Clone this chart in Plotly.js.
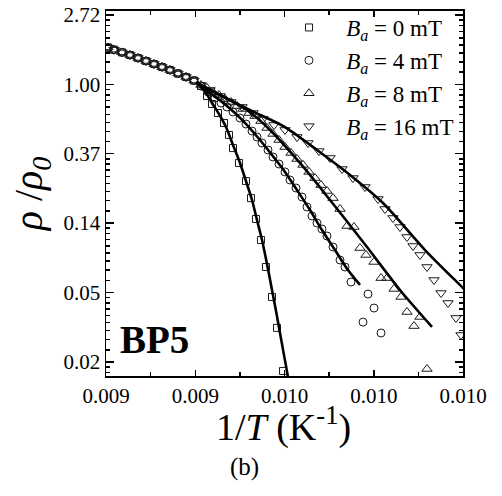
<!DOCTYPE html>
<html><head><meta charset="utf-8">
<script src="https://cdn.plot.ly/plotly-3.0.1.min.js"></script>
<style>html,body{margin:0;padding:0;background:#fff}</style>
</head><body><div id="chart" style="width:502px;height:496px"></div>
<script>
// ---- data ----
const seriesNames = ['0 mT', '4 mT', '8 mT', '16 mT'];

// high-temperature part, where all four series overlap
const commonX = [0.0092045, 0.0092179, 0.0092359, 0.0092538, 0.0092717, 0.0092896, 0.0093076, 0.0093255, 0.0093434, 0.0093613, 0.0093793, 0.0093972];
const commonY = [1.70, 1.646, 1.584, 1.525, 1.461, 1.399, 1.340, 1.283, 1.229, 1.168, 1.111, 1.056];

// Ba = 0 mT
const b0X = [0.0094129, 0.0094263, 0.0094375, 0.0094510, 0.0094644, 0.0094756, 0.0094846, 0.0094980, 0.0095137, 0.0095249, 0.0095361, 0.0095473, 0.0095585, 0.0095720, 0.0095832, 0.0095966];
const b0Y = [0.976, 0.845, 0.753, 0.661, 0.573, 0.482, 0.399, 0.322, 0.248, 0.194, 0.1436, 0.1061, 0.0719, 0.0467, 0.0299, 0.01607];
const fit0X = [0.0094039, 0.0094241, 0.0094375, 0.0094532, 0.0094689, 0.0094846, 0.0095003, 0.0095137, 0.0095272, 0.0095384, 0.0095496, 0.0095608, 0.0095720, 0.0095810, 0.0095899, 0.0095989, 0.0096078, 0.0096101];
const fit0Y = [1.034, 0.882, 0.764, 0.652, 0.540, 0.417, 0.322, 0.248, 0.1888, 0.1415, 0.1061, 0.0751, 0.0516, 0.0381, 0.0278, 0.0202, 0.01473, 0.01351];

// Ba = 4 mT
const b4X = [0.0094129, 0.0094286, 0.0094443, 0.0094577, 0.0094711, 0.0094846, 0.0095003, 0.0095137, 0.0095272, 0.0095384, 0.0095496, 0.0095630, 0.0095742, 0.0095877, 0.0096011, 0.0096123, 0.0096258, 0.0096392, 0.0096504, 0.0096616, 0.0096728, 0.0096840, 0.0096952, 0.0097087, 0.0097244, 0.0097356, 0.0097490, 0.0097871, 0.0098006, 0.0097759, 0.0098163];
const b4Y = [0.976, 0.895, 0.821, 0.764, 0.721, 0.671, 0.615, 0.564, 0.510, 0.468, 0.429, 0.388, 0.351, 0.317, 0.283, 0.252, 0.2244, 0.1971, 0.1707, 0.1499, 0.1355, 0.1243, 0.1124, 0.0959, 0.0795, 0.0719, 0.0579, 0.0487, 0.0398, 0.0325, 0.0278];
const fit4X = [0.0094039, 0.0094331, 0.0094599, 0.0094891, 0.0095182, 0.0095451, 0.0095720, 0.0096011, 0.0096280, 0.0096571, 0.0096840, 0.0097132, 0.0097423, 0.0097692];
const fit4Y = [1.019, 0.882, 0.775, 0.661, 0.548, 0.448, 0.361, 0.283, 0.218, 0.1635, 0.1225, 0.0918, 0.0688, 0.0555];

// Ba = 8 mT
const b8X = [0.0094129, 0.0094263, 0.0094398, 0.0094532, 0.0094667, 0.0094801, 0.0094936, 0.0095070, 0.0095205, 0.0095339, 0.0095473, 0.0095608, 0.0095742, 0.0095877, 0.0096011, 0.0096146, 0.0096280, 0.0096415, 0.0096549, 0.0096684, 0.0096818, 0.0096952, 0.0097087, 0.0097244, 0.0097401, 0.0097557, 0.0097692, 0.0097826, 0.0098006, 0.0098163, 0.0098297, 0.0098454, 0.0098611, 0.0098745, 0.0098902, 0.0099036, 0.0099193];
const b8Y = [0.990, 0.948, 0.895, 0.857, 0.809, 0.775, 0.731, 0.701, 0.661, 0.633, 0.589, 0.533, 0.489, 0.448, 0.405, 0.372, 0.341, 0.313, 0.283, 0.259, 0.234, 0.215, 0.194, 0.1658, 0.1298, 0.1279, 0.0945, 0.0855, 0.0773, 0.0613, 0.0613, 0.0524, 0.0467, 0.0376, 0.0307, 0.0350, 0.01654];
const fit8X = [0.0094039, 0.0094555, 0.0095160, 0.0095675, 0.0096347, 0.0097020, 0.0097849, 0.0098588, 0.0099305];
const fit8Y = [1.019, 0.857, 0.690, 0.518, 0.322, 0.1888, 0.0959, 0.0516, 0.0303];

// Ba = 16 mT
const b16X = [0.0094129, 0.0094331, 0.0094555, 0.0094801, 0.0095048, 0.0095294, 0.0095518, 0.0095765, 0.0096011, 0.0096280, 0.0096527, 0.0096773, 0.0097020, 0.0097289, 0.0097535, 0.0097804, 0.0098095, 0.0098252, 0.0098431, 0.0098588, 0.0098745, 0.0098880, 0.0099036, 0.0099193, 0.0099350, 0.0099507, 0.0099664, 0.0099843, 0.0099955];
const b16Y = [0.990, 0.921, 0.845, 0.775, 0.721, 0.661, 0.607, 0.556, 0.518, 0.468, 0.429, 0.382, 0.346, 0.295, 0.259, 0.2277, 0.1915, 0.1658, 0.1457, 0.1279, 0.1108, 0.0973, 0.0855, 0.0719, 0.0596, 0.0494, 0.0428, 0.0345, 0.0270];
const fit16X = [0.0094039, 0.0094599, 0.0095227, 0.0096011, 0.0096728, 0.0097468, 0.0098207, 0.0099149, 0.0100000, 0.0100269];
const fit16Y = [1.019, 0.845, 0.690, 0.540, 0.388, 0.271, 0.1808, 0.0918, 0.0531, 0.0447];

// ticks
const xTickVals = [0.0092, 0.0094, 0.0096, 0.0098, 0.0100];
const xTickText = ['0.009', '0.009', '0.010', '0.010', '0.010'];
const xMinorVals = [0.0093, 0.0095, 0.0097, 0.0099];
const yTickExp = [-4, -3, -2, -1, 0, 1];
const yTickText = ['0.02', '0.05', '0.14', '0.37', '1.00', '2.72'];

// ---- build ----
const yTickVals = yTickExp.map(n => Math.exp(n));
const yMinorVals = [];
for (let n = -5; n <= 1; n++) {
  const a = Math.exp(n), b = Math.exp(n + 1);
  for (let k = 1; k <= 8; k++) yMinorVals.push(a + k * (b - a) / 9);
}

const symbols = ['square-open', 'circle-open', 'triangle-up-open', 'triangle-down-open'];
const sizes = [7, 8, 9, 9];
const ptsX = [b0X, b4X, b8X, b16X];
const ptsY = [b0Y, b4Y, b8Y, b16Y];
const fitX = [fit0X, fit4X, fit8X, fit16X];
const fitY = [fit0Y, fit4Y, fit8Y, fit16Y];

const traces = [];
for (let i = 0; i < 4; i++) {
  traces.push({
    type: 'scatter', mode: 'markers',
    x: commonX.concat(ptsX[i]), y: commonY.concat(ptsY[i]),
    name: '\u00a0\u00a0\u00a0<i>B</i><sub><i>a</i></sub> = ' + seriesNames[i],
    marker: {symbol: symbols[i], size: sizes[i], color: '#1a1a1a', line: {width: 1, color: '#1a1a1a'}}
  });
}
for (let i = 0; i < 4; i++) {
  traces.push({
    type: 'scatter', mode: 'lines', x: fitX[i], y: fitY[i], showlegend: false,
    line: {color: '#000', width: 2.6, shape: 'spline', smoothing: 0.8}, hoverinfo: 'skip'
  });
}

const serif = 'Liberation Serif';
const layout = {
  width: 502, height: 496,
  margin: {l: 106, r: 39, t: 6, b: 120, pad: 0},
  paper_bgcolor: '#fff', plot_bgcolor: '#fff',
  font: {family: serif, color: '#000', size: 21},
  showlegend: true,
  legend: {x: 0.5126, y: 1.0, xanchor: 'left', yanchor: 'top', bgcolor: 'rgba(0,0,0,0)', borderwidth: 0,
           font: {family: serif, size: 23, color: '#000'}},
  xaxis: {
    range: [0.0092, 0.0100], tickmode: 'array', tickvals: xTickVals, ticktext: xTickText,
    ticks: 'inside', ticklen: 6, tickwidth: 1.5, tickcolor: '#000',
    showline: true, linewidth: 1.5, linecolor: '#000', mirror: 'allticks',
    showgrid: false, zeroline: false, automargin: false,
    tickfont: {family: serif, size: 21, color: '#000'},
    minor: {tickmode: 'array', tickvals: xMinorVals, ticks: 'inside', ticklen: 4, tickwidth: 1.5, tickcolor: '#000', showgrid: false}
  },
  yaxis: {
    type: 'log', range: [-1.8254, 0.4587], domain: [0, 0.98649], tickmode: 'array', tickvals: yTickVals, ticktext: yTickText,
    ticks: 'inside', ticklen: 8, tickwidth: 1.5, tickcolor: '#000',
    showline: true, linewidth: 1.5, linecolor: '#000', mirror: 'allticks',
    showgrid: false, zeroline: false, automargin: false,
    tickfont: {family: serif, size: 21, color: '#000'},
    minor: {tickmode: 'array', tickvals: yMinorVals, ticks: 'inside', ticklen: 4, tickwidth: 1.5, tickcolor: '#000', showgrid: false},
    title: {text: '<i>ρ</i> /<i>ρ</i><sub><i>0</i></sub>', font: {family: serif, size: 40, color: '#000'}, standoff: 8}
  },
  annotations: [
    {xref: 'paper', yref: 'paper', x: 0.497, y: -0.1324, xanchor: 'center', yanchor: 'middle', showarrow: false,
     text: '1/<i>T</i> (K<sup>-1</sup>)', font: {family: serif, size: 38, color: '#000'}},
    {xref: 'paper', yref: 'paper', x: 0.033, y: 0.0973, xanchor: 'left', yanchor: 'middle', showarrow: false,
     text: '<b>BP5</b>', font: {family: serif, size: 39, color: '#000'}},
    {xref: 'paper', yref: 'paper', x: 0.389, y: -0.2459, xanchor: 'center', yanchor: 'middle', showarrow: false,
     text: '(b)', font: {family: serif, size: 25, color: '#000'}}
  ]
};

Plotly.newPlot('chart', traces, layout, {displayModeBar: false, staticPlot: true});
</script>
</body></html>
